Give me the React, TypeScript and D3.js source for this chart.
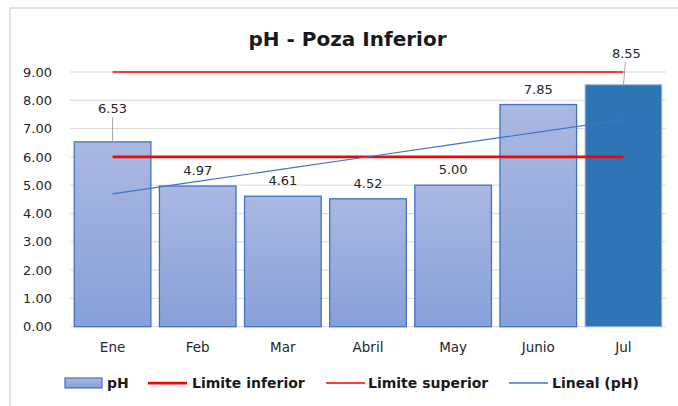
import React from 'react';
import * as d3 from 'd3';

// datos del gráfico
const months = ['Ene', 'Feb', 'Mar', 'Abril', 'May', 'Junio', 'Jul'];
const phValues = [6.53, 4.97, 4.61, 4.52, 5.0, 7.85, 8.55];
const limiteInferior = [6, 6, 6, 6, 6, 6, 6];
const limiteSuperior = [9, 9, 9, 9, 9, 9, 9];
const yTicks = [0, 1, 2, 3, 4, 5, 6, 7, 8, 9];
const legendItems = ['pH', 'Limite inferior', 'Limite superior', 'Lineal (pH)'];

const W = 678;
const H = 406;
const FONT = '"DejaVu Sans", Verdana, sans-serif';

// tendencia lineal (mínimos cuadrados) sobre los valores de pH
const linearTrend = (vals: number[]) => {
  const xs = vals.map((_, i) => i + 1);
  const mx = d3.mean(xs)!;
  const my = d3.mean(vals)!;
  const slope =
    d3.sum(xs, (x, i) => (x - mx) * (vals[i] - my)) / d3.sum(xs, (x) => (x - mx) * (x - mx));
  return xs.map((x) => my + slope * (x - mx));
};

const App: React.FC = () => {
  const x = d3.scaleBand<string>().domain(months).range([70, 666]).paddingInner(0.1).paddingOuter(0.05);
  const y = d3.scaleLinear().domain([0, 9]).range([326.7, 72]);
  const cx = (m: string) => x(m)! + x.bandwidth() / 2;
  const trend = linearTrend(phValues);

  const lineGen = d3
    .line<number>()
    .x((_, i) => cx(months[i]))
    .y((d) => y(d));

  // desplazamiento manual de algunas etiquetas (con línea guía)
  const labelShift: Record<string, number> = { Ene: -18, Jul: -16 };

  const legendX = [65, 148, 326, 509];
  const legendTextOff = [42, 44, 42, 43];

  return (
    <svg
      width={W}
      height={H}
      style={{ position: 'absolute', left: 0, top: 0, background: '#fff', fontFamily: FONT }}
    >
      <defs>
        <linearGradient id="barGrad" x1="0" y1="0" x2="0" y2="1">
          <stop offset="0%" stopColor="#aab8e2" />
          <stop offset="100%" stopColor="#88a0d9" />
        </linearGradient>
      </defs>
      <rect x={10} y={8} width={W} height={H} fill="#fff" stroke="#d9d9d9" strokeWidth={1.5} />

      <text x={347.5} y={46} textAnchor="middle" fontSize={20} fontWeight="bold" fill="#1a1a1a">
        pH - Poza Inferior
      </text>

      {/* cuadrícula */}
      {yTicks.map((t) => (
        <g key={t}>
          <line x1={70} x2={666} y1={y(t)} y2={y(t)} stroke="#d9d9d9" strokeWidth={1} />
          <text x={52} y={y(t)} dy="0.36em" textAnchor="end" fontSize={13} fill="#262626">
            {t.toFixed(2)}
          </text>
        </g>
      ))}

      {/* barras */}
      {months.map((m, i) => {
        const last = i === months.length - 1;
        return (
          <rect
            key={m}
            x={x(m)}
            y={y(phValues[i])}
            width={x.bandwidth()}
            height={y(0) - y(phValues[i])}
            fill={last ? '#2e75b6' : 'url(#barGrad)'}
            stroke={last ? '#9db3e0' : '#4472c4'}
            strokeWidth={last ? 1 : 1.3}
          />
        );
      })}

      {/* límites y tendencia */}
      <path d={lineGen(limiteSuperior)!} fill="none" stroke="#ff0000" strokeWidth={1.5} />
      <path d={lineGen(limiteInferior)!} fill="none" stroke="#ff0000" strokeWidth={2.75} />
      <path d={lineGen(trend)!} fill="none" stroke="#4472c4" strokeWidth={1.2} />

      {/* etiquetas de datos */}
      {months.map((m, i) => {
        const top = y(phValues[i]);
        const shift = labelShift[m] ?? 0;
        const ly = top - 15.5 + shift;
        return (
          <g key={m}>
            {shift !== 0 && (
              <line x1={cx(m) + (i === 0 ? 0 : 2)} y1={ly + 9} x2={cx(m)} y2={top} stroke="#a6a6a6" strokeWidth={1} />
            )}
            <text x={cx(m) + (i === months.length - 1 ? 3 : 0)} y={ly} dy="0.36em" textAnchor="middle" fontSize={13} fill="#262626">
              {phValues[i].toFixed(2)}
            </text>
          </g>
        );
      })}

      {/* eje x */}
      {months.map((m) => (
        <text key={m} x={cx(m)} y={347} dy="0.36em" textAnchor="middle" fontSize={13.5} fill="#262626">
          {m}
        </text>
      ))}

      {/* leyenda */}
      {legendItems.map((name, i) => {
        const lx = legendX[i];
        const ly = 383;
        return (
          <g key={name}>
            {i === 0 ? (
              <rect x={lx} y={ly - 5} width={37} height={10} fill="url(#barGrad)" stroke="#4472c4" strokeWidth={1.2} />
            ) : (
              <line
                x1={lx}
                x2={lx + 39}
                y1={ly}
                y2={ly}
                stroke={i === 3 ? '#4472c4' : '#ff0000'}
                strokeWidth={i === 1 ? 2.75 : 1.3}
              />
            )}
            <text x={lx + legendTextOff[i]} y={ly} dy="0.36em" fontSize={14} fontWeight="bold" fill="#1a1a1a">
              {name}
            </text>
          </g>
        );
      })}
    </svg>
  );
};

export default App;
